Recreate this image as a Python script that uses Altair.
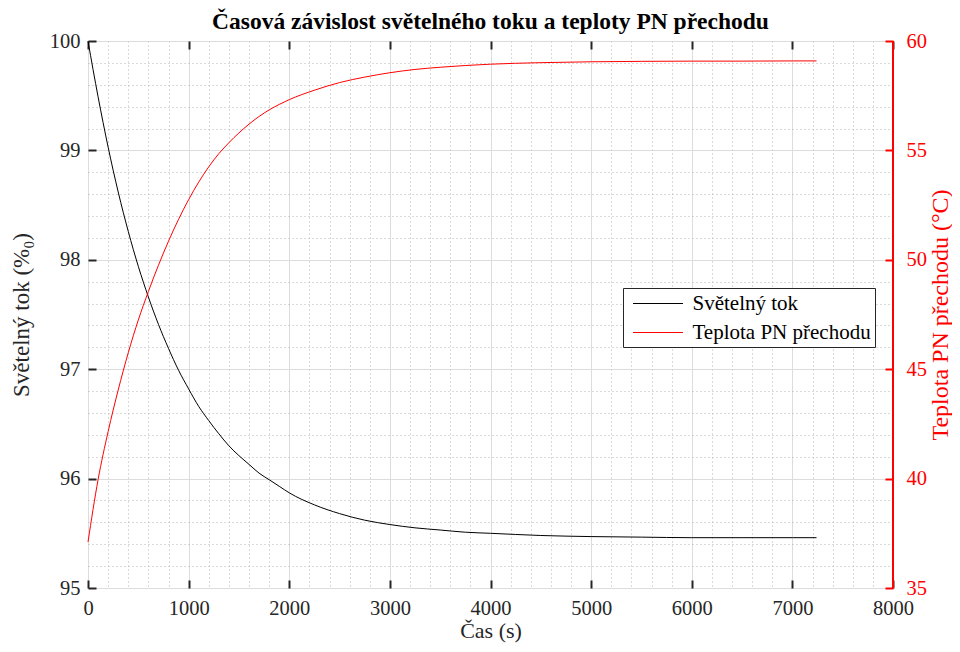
import altair as alt
import pandas as pd

# ---- data ----
TIME_S = [0, 100, 200, 300, 400, 500, 600, 700, 800, 900, 1000, 1100, 1200, 1300,
          1400, 1500, 1600, 1700, 1800, 1900, 2000, 2250, 2500, 2750, 3000, 3250,
          3500, 3750, 4000, 4500, 5000, 5500, 6000, 6500, 7000, 7240]
TOK = [100.00, 99.49, 99.03, 98.62, 98.26, 97.94, 97.66, 97.41, 97.19, 96.99, 96.82,
       96.66, 96.53, 96.41, 96.30, 96.21, 96.13, 96.05, 95.99, 95.93, 95.87, 95.76,
       95.68, 95.62, 95.58, 95.55, 95.53, 95.51, 95.50, 95.48, 95.47, 95.465, 95.46,
       95.46, 95.46, 95.46]
TEPLOTA = [37.10, 39.95, 42.15, 44.05, 45.75, 47.25, 48.55, 49.75, 50.85, 51.85, 52.75,
           53.55, 54.25, 54.85, 55.35, 55.80, 56.20, 56.55, 56.85, 57.10, 57.32, 57.75,
           58.10, 58.35, 58.55, 58.70, 58.80, 58.88, 58.94, 59.01, 59.05, 59.07, 59.08,
           59.08, 59.09, 59.09]

SERIES = ["Světelný tok", "Teplota PN přechodu"]
COLORS = ["#000000", "#ff0000"]

X_DOMAIN = [0, 8000]
Y_LEFT_DOMAIN = [95, 100]
Y_RIGHT_DOMAIN = [35, 60]
X_TICKS = list(range(0, 8001, 200))
X_MAJOR = list(range(0, 8001, 1000))
Y_LEFT_TICKS = [round(95 + 0.2 * i, 1) for i in range(26)]
Y_RIGHT_TICKS = [35, 40, 45, 50, 55, 60]

rows = []
for t, a, b in zip(TIME_S, TOK, TEPLOTA):
    rows.append({"t": t, "value": a, "series": SERIES[0]})
    rows.append({"t": t, "value": b, "series": SERIES[1]})
df = pd.DataFrame(rows)
edge_df = pd.DataFrame({"x_max": [X_DOMAIN[1]]})

FONT = "Liberation Serif"
AX = "#262626"
MAJOR_GRID = "#dcdcdc"
MINOR_GRID = "#b4b4b4"

x_major_test = "datum.value % 1000 === 0"
y_major_test = "abs(datum.value - round(datum.value)) < 0.001"

color = alt.Color("series:N", scale=alt.Scale(domain=SERIES, range=COLORS),
                  legend=alt.Legend(title=None, orient="none", legendX=535, legendY=247,
                                    symbolType="M-2.27,0H2.27", symbolSize=484,
                                    symbolOffset=19.5, symbolStrokeWidth=1,
                                    labelFont=FONT, labelFontSize=21,
                                    labelColor="#000000", labelOffset=23,
                                    fillColor="white", strokeColor="#262626",
                                    padding=4, rowPadding=7, labelLimit=400))

x_bottom = alt.X("t:Q", scale=alt.Scale(domain=X_DOMAIN, nice=False),
                 axis=alt.Axis(values=X_TICKS, title="Čas (s)", orient="bottom",
                               offset=-8, tickSize=8, tickWidth=2, tickColor=AX,
                               tickOpacity={"condition": {"test": x_major_test, "value": 1}, "value": 0},
                               domain=False, format="d",
                               labelExpr="datum.value % 1000 === 0 ? datum.label : ''",
                               labelFont=FONT, labelFontSize=20.5, labelColor=AX,
                               labelPadding=10, labelOverlap=False, labelFlush=False,
                               titleFont=FONT, titleFontSize=22, titleFontWeight="normal",
                               titleColor=AX, titlePadding=2,
                               grid=True,
                               gridColor={"condition": {"test": x_major_test, "value": MAJOR_GRID}, "value": MINOR_GRID},
                               gridDash={"condition": {"test": x_major_test, "value": []}, "value": [1, 3]},
                               gridWidth=1))

x_top = alt.X("t:Q", scale=alt.Scale(domain=X_DOMAIN, nice=False),
              axis=alt.Axis(values=X_MAJOR, orient="top", offset=-8, tickSize=8,
                            tickWidth=2, tickColor=AX, domain=False, labels=False,
                            grid=False, title=None))

left = alt.Chart(df).transform_filter(
    alt.datum.series == SERIES[0]
).mark_line(strokeWidth=1, interpolate="monotone").encode(
    x=x_bottom,
    y=alt.Y("value:Q", scale=alt.Scale(domain=Y_LEFT_DOMAIN, nice=False, zero=False),
            axis=alt.Axis(values=Y_LEFT_TICKS, orient="left", title="Světelný tok (%₀)",
                          offset=-8, tickSize=8, tickWidth=2, tickColor=AX,
                          tickOpacity={"condition": {"test": y_major_test, "value": 1}, "value": 0},
                          domain=False,
                          labelExpr="abs(datum.value - round(datum.value)) < 0.001 ? format(datum.value, 'd') : ''",
                          labelFont=FONT, labelFontSize=20.5, labelColor=AX,
                          labelPadding=8, labelOverlap=False, labelFlush=False,
                          titleFont=FONT, titleFontSize=23, titleFontWeight="normal",
                          titleColor=AX, titlePadding=16,
                          grid=True,
                          gridColor={"condition": {"test": y_major_test, "value": MAJOR_GRID}, "value": MINOR_GRID},
                          gridDash={"condition": {"test": y_major_test, "value": []}, "value": [1, 3]},
                          gridWidth=1)),
    color=color,
)

right = alt.Chart(df).transform_filter(
    alt.datum.series == SERIES[1]
).mark_line(strokeWidth=1, interpolate="monotone").encode(
    x=x_top,
    y=alt.Y("value:Q", scale=alt.Scale(domain=Y_RIGHT_DOMAIN, nice=False, zero=False),
            axis=alt.Axis(values=Y_RIGHT_TICKS, orient="right",
                          title="Teplota PN přechodu (°C)", titleAngle=270,
                          titleBaseline="top",
                          offset=-8, tickSize=8, tickWidth=2, tickColor="#ff0000",
                          domain=False, format="d",
                          labelFont=FONT, labelFontSize=20.5, labelColor="#ff0000",
                          labelPadding=13, labelOverlap=False, labelFlush=False,
                          titleFont=FONT, titleFontSize=24, titleFontWeight="normal",
                          titleColor="#ff0000", titlePadding=2, grid=False)),
    color=color,
)

edge = alt.Chart(edge_df).mark_rule(color="#ff0000", strokeWidth=2).encode(
    x=alt.X("x_max:Q", scale=alt.Scale(domain=X_DOMAIN, nice=False), axis=None)
)

chart = alt.layer(left, right, edge).resolve_scale(
    y="independent"
).resolve_axis(
    x="independent", y="independent"
).properties(
    width=805, height=547,
    title=alt.TitleParams("Časová závislost světelného toku a teploty PN přechodu",
                          font=FONT, fontSize=23.5, fontWeight="bold", color="#000000",
                          offset=-2, anchor="middle"),
    autosize=alt.AutoSizeParams(type="none"),
    padding={"left": 80, "top": 33, "right": 59, "bottom": 56},
).configure_view(
    stroke=AX, strokeWidth=1.5
).configure(background="white")

chart.save("out.html", embed_options={"renderer": "svg", "actions": False})
